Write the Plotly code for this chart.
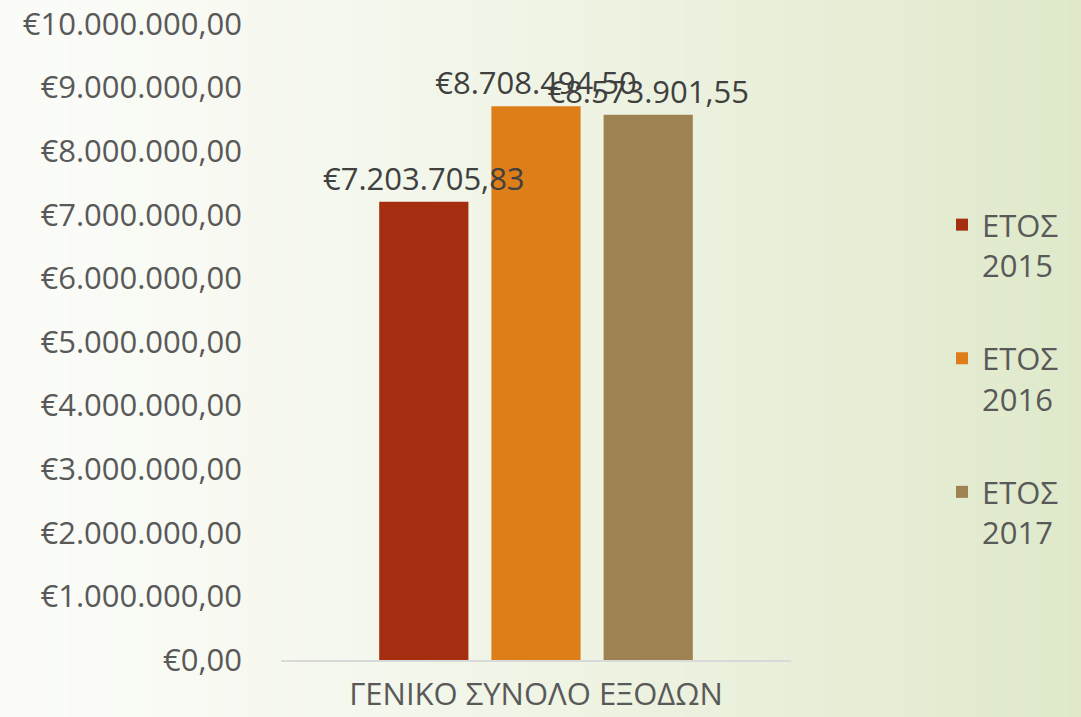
import zlib, struct, base64
import plotly.graph_objects as go

# ---- data ----
categories = ["ΓΕΝΙΚΟ ΣΥΝΟΛΟ ΕΞΟΔΩΝ"]
series_names = ["ΕΤΟΣ<br>2015", "ΕΤΟΣ<br>2016", "ΕΤΟΣ<br>2017"]
values_2015 = [7203705.83]
values_2016 = [8708494.50]
values_2017 = [8573901.55]
series_values = [values_2015, values_2016, values_2017]
colors = ["#A52D10", "#DE7E18", "#9E8252"]

W, H = 1081, 717
L, R, T, B = 281, 290, 24, 57
pw, ph = W - L - R, H - T - B
FONT = "Open Sans"
FS = 31


def make_png(w, h, fn):
    rows = []
    for y in range(h):
        row = bytearray([0])
        for x in range(w):
            row.extend(fn(x, y))
        rows.append(bytes(row))
    raw = b"".join(rows)

    def chunk(t, d):
        c = struct.pack(">I", len(d)) + t + d
        return c + struct.pack(">I", zlib.crc32(t + d) & 0xFFFFFFFF)

    png = (b"\x89PNG\r\n\x1a\n"
           + chunk(b"IHDR", struct.pack(">IIBBBBB", w, h, 8, 2, 0, 0, 0))
           + chunk(b"IDAT", zlib.compress(raw))
           + chunk(b"IEND", b""))
    return "data:image/png;base64," + base64.b64encode(png).decode()


c0 = (251, 252, 248)
c1 = (223, 233, 202)


def grad(x, y):
    t = (x / 199.0) ** 1.3
    return tuple(int(round(a + (b - a) * t)) for a, b in zip(c0, c1))


bg = make_png(200, 10, grad)

fig = go.Figure()
# visible bars
for i, (name, vals, col) in enumerate(zip(series_names, series_values, colors)):
    fig.add_trace(go.Bar(
        x=categories, y=vals, name=name, legendgroup=name, offsetgroup=str(i),
        marker=dict(color=col, line=dict(width=0)),
        hoverinfo="skip",
    ))
# value labels drawn on top of every bar (transparent twin bars)
for i, vals in enumerate(series_values):
    fig.add_trace(go.Bar(
        x=categories, y=vals, offsetgroup=str(i), showlegend=False,
        marker=dict(color="rgba(0,0,0,0)", line=dict(width=0)),
        texttemplate="€%{y:,.2f}", textposition="outside",
        textfont=dict(family=FONT, size=FS, color="#404040"),
        constraintext="none", cliponaxis=False, hoverinfo="skip",
    ))

fig.update_layout(
    width=W, height=H,
    margin=dict(l=L, r=R, t=T, b=B, pad=0, autoexpand=False),
    paper_bgcolor="white", plot_bgcolor="rgba(0,0,0,0)",
    separators=",.",
    barmode="group", bargap=0.34, bargroupgap=0.205,
    font=dict(family=FONT, size=FS, color="#595959"),
    showlegend=True,
    legend=dict(x=(942 - L) / pw, xanchor="left", y=(660 - 198) / ph, yanchor="top",
                valign="top", tracegroupgap=50, bgcolor="rgba(0,0,0,0)",
                font=dict(family=FONT, size=FS, color="#595959")),
    images=[dict(source=bg, xref="paper", yref="paper",
                 x=-L / pw, y=1 + T / ph, sizex=W / pw, sizey=H / ph,
                 xanchor="left", yanchor="top", sizing="stretch", layer="below")],
)
fig.update_yaxes(range=[0, 10000000], dtick=1000000, tickformat=",.2f", tickprefix="€",
                 showgrid=False, zeroline=False, showline=False, ticks="",
                 ticklabelstandoff=38,
                 tickfont=dict(family=FONT, size=FS, color="#595959"))
fig.update_xaxes(showline=True, linecolor="#D9D9D9", linewidth=2, ticks="",
                 showgrid=False, ticklabelstandoff=6,
                 tickfont=dict(family=FONT, size=FS, color="#595959"))

fig.write_html("out.html", config={"displayModeBar": False},
               post_script="document.body.style.margin='0';")
